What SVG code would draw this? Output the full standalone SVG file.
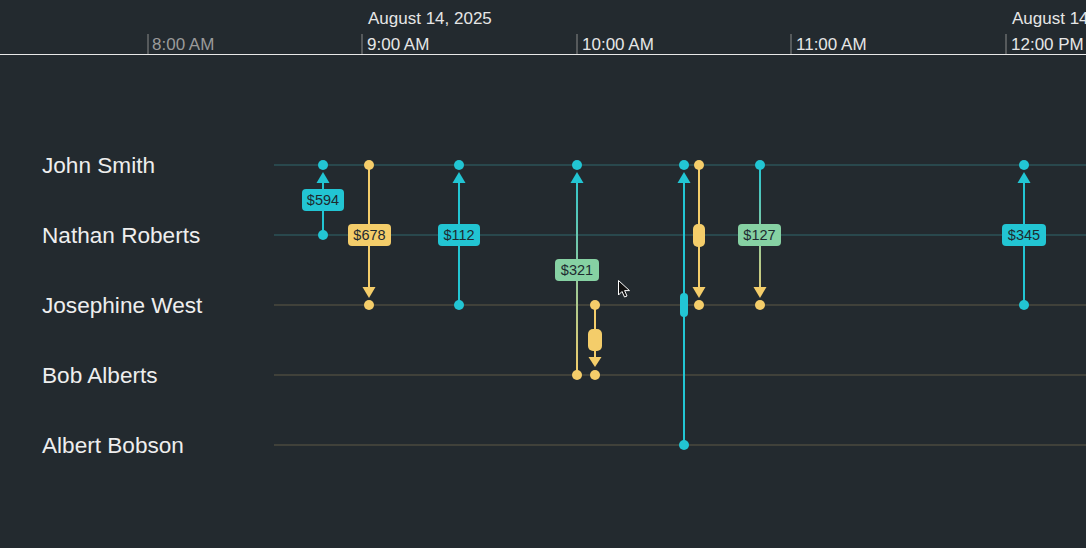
<svg xmlns="http://www.w3.org/2000/svg" width="1086" height="548" viewBox="0 0 1086 548">
<defs>
<style>
.axis{font-family:"Liberation Sans",Arial,sans-serif;font-size:17px;fill:#e6e6e6}
.axis.dim{fill:#9a9a9a}
.tick{stroke:#8a8a8a;stroke-width:1}
.name{font-family:"Liberation Sans",Arial,sans-serif;font-size:22.6px;fill:#eeeeee}
.rowc{stroke:#2d5358;stroke-width:1.5}
.rowy{stroke:#4b4a3f;stroke-width:1.5}
.lc{stroke:#22c5d3;stroke-width:2;fill:none}
.ly{stroke:#f4cd6a;stroke-width:2;fill:none}
.fc{fill:#22c5d3}
.fy{fill:#f4cd6a}
.fg{fill:#86d1a3}
.lbl{font-family:"Liberation Sans",Arial,sans-serif;font-size:14.5px;fill:#1e2a30;text-anchor:middle}
</style>
<linearGradient id="gUp" x1="0" y1="375" x2="0" y2="165" gradientUnits="userSpaceOnUse">
<stop offset="0" stop-color="#f4cd6a"/><stop offset="1" stop-color="#22c5d3"/>
</linearGradient>
<linearGradient id="gDown" x1="0" y1="165" x2="0" y2="305" gradientUnits="userSpaceOnUse">
<stop offset="0" stop-color="#22c5d3"/><stop offset="1" stop-color="#f4cd6a"/>
</linearGradient>
</defs>
<rect width="1086" height="548" fill="#232a2f"/>

<g id="timeline-axis">
<text class="axis" x="368" y="24">August 14, 2025</text>
<text class="axis" x="1012" y="24">August 14, 2025</text>
<line class="tick" x1="148" y1="34" x2="148" y2="54"/>
<line class="tick" x1="362" y1="34" x2="362" y2="54"/>
<line class="tick" x1="577" y1="34" x2="577" y2="54"/>
<line class="tick" x1="791" y1="34" x2="791" y2="54"/>
<line class="tick" x1="1006" y1="34" x2="1006" y2="54"/>
<text class="axis dim" x="152" y="50">8:00 AM</text>
<text class="axis" x="367" y="50">9:00 AM</text>
<text class="axis" x="582" y="50">10:00 AM</text>
<text class="axis" x="796" y="50">11:00 AM</text>
<text class="axis" x="1011" y="50">12:00 PM</text>
<line x1="0" y1="54.5" x2="1086" y2="54.5" stroke="#e8e8e8" stroke-width="1.2"/>
</g>

<g id="row-john-smith">
<line class="rowc" x1="274" y1="165" x2="1086" y2="165"/>
<text class="name" x="42" y="172.5">John Smith</text>
</g>
<g id="row-nathan-roberts">
<line class="rowc" x1="274" y1="235" x2="1086" y2="235"/>
<text class="name" x="42" y="242.5">Nathan Roberts</text>
</g>
<g id="row-josephine-west">
<line class="rowy" x1="274" y1="305" x2="1086" y2="305"/>
<text class="name" x="42" y="312.5">Josephine West</text>
</g>
<g id="row-bob-alberts">
<line class="rowy" x1="274" y1="375" x2="1086" y2="375"/>
<text class="name" x="42" y="382.5">Bob Alberts</text>
</g>
<g id="row-albert-bobson">
<line class="rowy" x1="274" y1="445" x2="1086" y2="445"/>
<text class="name" x="42" y="452.5">Albert Bobson</text>
</g>

<g id="connectors">
<g id="tx-594">
<line class="lc" x1="323" y1="235" x2="323" y2="180"/>
<polygon class="fc" points="316.5,183 329.5,183 323,172"/>
<circle class="fc" cx="323" cy="165" r="5"/>
<circle class="fc" cx="323" cy="235" r="5"/>
<rect class="fc" x="302" y="189" width="42" height="22" rx="4"/>
<text class="lbl" x="323" y="205">$594</text>
</g>
<g id="tx-678">
<line class="ly" x1="369" y1="165" x2="369" y2="290"/>
<polygon class="fy" points="362.5,287 375.5,287 369,298"/>
<circle class="fy" cx="369" cy="165" r="5"/>
<circle class="fy" cx="369" cy="305" r="5"/>
<rect class="fy" x="348" y="224" width="43" height="22" rx="4"/>
<text class="lbl" x="369.5" y="240">$678</text>
</g>
<g id="tx-112">
<line class="lc" x1="459" y1="305" x2="459" y2="180"/>
<polygon class="fc" points="452.5,183 465.5,183 459,172"/>
<circle class="fc" cx="459" cy="165" r="5"/>
<circle class="fc" cx="459" cy="305" r="5"/>
<rect class="fc" x="438" y="224" width="42" height="22" rx="4"/>
<text class="lbl" x="459" y="240">$112</text>
</g>
<g id="tx-321">
<rect x="576" y="178" width="2" height="197" fill="url(#gUp)"/>
<polygon class="fc" points="570.5,183 583.5,183 577,172"/>
<circle class="fc" cx="577" cy="165" r="5"/>
<circle class="fy" cx="577" cy="375" r="5"/>
<rect class="fg" x="555" y="259" width="44" height="22" rx="4"/>
<text class="lbl" x="577" y="275">$321</text>
</g>
<g id="tx-jw-ba">
<line class="ly" x1="595" y1="305" x2="595" y2="360"/>
<rect class="fy" x="588" y="329" width="14" height="22" rx="5"/>
<polygon class="fy" points="588.5,357 601.5,357 595,367"/>
<circle class="fy" cx="595" cy="305" r="5"/>
<circle class="fy" cx="595" cy="375" r="5"/>
</g>
<g id="tx-ab-js">
<line class="lc" x1="684" y1="445" x2="684" y2="180"/>
<polygon class="fc" points="677.5,183 690.5,183 684,172"/>
<rect class="fc" x="680" y="293" width="8" height="24" rx="4"/>
<circle class="fc" cx="684" cy="165" r="5"/>
<circle class="fc" cx="684" cy="445" r="5"/>
</g>
<g id="tx-js-jw">
<line class="ly" x1="699" y1="165" x2="699" y2="290"/>
<rect class="fy" x="693" y="224" width="12" height="23" rx="5"/>
<polygon class="fy" points="692.5,287 705.5,287 699,298"/>
<circle class="fy" cx="699" cy="165" r="5"/>
<circle class="fy" cx="699" cy="305" r="5"/>
</g>
<g id="tx-127">
<rect x="759" y="165" width="2" height="125" fill="url(#gDown)"/>
<polygon class="fy" points="753.5,287 766.5,287 760,298"/>
<circle class="fc" cx="760" cy="165" r="5"/>
<circle class="fy" cx="760" cy="305" r="5"/>
<rect class="fg" x="738" y="224" width="43" height="22" rx="4"/>
<text class="lbl" x="759.5" y="240">$127</text>
</g>
<g id="tx-345">
<line class="lc" x1="1024" y1="305" x2="1024" y2="180"/>
<polygon class="fc" points="1017.5,183 1030.5,183 1024,172"/>
<circle class="fc" cx="1024" cy="165" r="5"/>
<circle class="fc" cx="1024" cy="305" r="5"/>
<rect class="fc" x="1002" y="224" width="44" height="22" rx="4"/>
<text class="lbl" x="1024" y="240">$345</text>
</g>
</g>

<path d="M618.5,280.5 L618.5,295 L622,291.5 L624.5,297 L627,296 L624.6,290.6 L629.5,290.6 Z" fill="#111" stroke="#fff" stroke-width="1" stroke-linejoin="round"/>
</svg>
